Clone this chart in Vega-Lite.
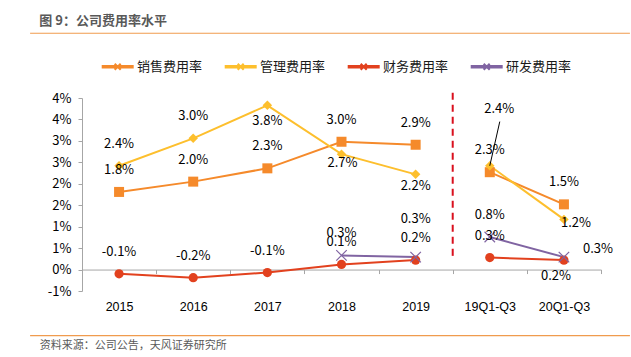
{
  "$schema": "https://vega.github.io/schema/vega-lite/v6.json",
  "width": 519,
  "height": 193,
  "autosize": {"type": "none"},
  "padding": {"left": 82, "top": 98, "right": 30, "bottom": 66},
  "background": "white",
  "config": {"view": {"stroke": null}, "font": "Noto Sans CJK SC", "axisY": {"labelOverlap": false}, "axisQuantitative": {"labelOverlap": false}},
  "title": {
    "text": "图 9：公司费用率水平",
    "anchor": "start",
    "frame": "group",
    "dx": -42.7,
    "offset": -5.5,
    "baseline": "alphabetic",
    "fontSize": 13,
    "fontWeight": "bold",
    "color": "#595959",
    "font": "Noto Sans CJK SC"
  },
  "data": {"name": "fees"},
  "datasets": {
    "fees": [
      {"period": "2015", "grp": "年度", "series": "销售费用率", "value": 1.81, "label": "1.8%"},
      {"period": "2016", "grp": "年度", "series": "销售费用率", "value": 2.05, "label": "2.0%"},
      {"period": "2017", "grp": "年度", "series": "销售费用率", "value": 2.36, "label": "2.3%"},
      {"period": "2018", "grp": "年度", "series": "销售费用率", "value": 2.98, "label": "3.0%"},
      {"period": "2019", "grp": "年度", "series": "销售费用率", "value": 2.91, "label": "2.9%"},
      {"period": "19Q1-Q3", "grp": "季度", "series": "销售费用率", "value": 2.27, "label": "2.3%"},
      {"period": "20Q1-Q3", "grp": "季度", "series": "销售费用率", "value": 1.52, "label": "1.5%"},
      {"period": "2015", "grp": "年度", "series": "管理费用率", "value": 2.42, "label": "2.4%"},
      {"period": "2016", "grp": "年度", "series": "管理费用率", "value": 3.06, "label": "3.0%"},
      {"period": "2017", "grp": "年度", "series": "管理费用率", "value": 3.83, "label": "3.8%"},
      {"period": "2018", "grp": "年度", "series": "管理费用率", "value": 2.69, "label": "2.7%"},
      {"period": "2019", "grp": "年度", "series": "管理费用率", "value": 2.22, "label": "2.2%"},
      {"period": "19Q1-Q3", "grp": "季度", "series": "管理费用率", "value": 2.42, "label": "2.4%"},
      {"period": "20Q1-Q3", "grp": "季度", "series": "管理费用率", "value": 1.17, "label": "1.2%"},
      {"period": "2015", "grp": "年度", "series": "财务费用率", "value": -0.10, "label": "-0.1%"},
      {"period": "2016", "grp": "年度", "series": "财务费用率", "value": -0.19, "label": "-0.2%"},
      {"period": "2017", "grp": "年度", "series": "财务费用率", "value": -0.07, "label": "-0.1%"},
      {"period": "2018", "grp": "年度", "series": "财务费用率", "value": 0.12, "label": "0.1%"},
      {"period": "2019", "grp": "年度", "series": "财务费用率", "value": 0.22, "label": "0.2%"},
      {"period": "19Q1-Q3", "grp": "季度", "series": "财务费用率", "value": 0.28, "label": "0.3%"},
      {"period": "20Q1-Q3", "grp": "季度", "series": "财务费用率", "value": 0.22, "label": "0.2%"},
      {"period": "2018", "grp": "年度", "series": "研发费用率", "value": 0.33, "label": "0.3%"},
      {"period": "2019", "grp": "年度", "series": "研发费用率", "value": 0.29, "label": "0.3%"},
      {"period": "19Q1-Q3", "grp": "季度", "series": "研发费用率", "value": 0.76, "label": "0.8%"},
      {"period": "20Q1-Q3", "grp": "季度", "series": "研发费用率", "value": 0.29, "label": "0.3%"}
    ]
  },
  "layer": [
    {
      "mark": {"type": "line", "strokeWidth": 2},
      "encoding": {
        "x": {
          "field": "period",
          "type": "ordinal",
          "scale": {"type": "band", "domain": ["2015", "2016", "2017", "2018", "2019", "19Q1-Q3", "20Q1-Q3"], "paddingInner": 0, "paddingOuter": 0},
          "axis": {
            "offset": -21.44,
            "title": "资料来源：公司公告，天风证券研究所",
            "titleX": -42.7,
            "titleY": 76,
            "titleAlign": "left",
            "titleAnchor": "start",
            "titleBaseline": "middle",
            "titleFont": "Noto Sans CJK SC",
            "titleFontSize": 11,
            "titleFontWeight": "normal",
            "titleColor": "#595959",
            "labelAngle": 0,
            "labelFont": "Liberation Sans",
            "labelFontSize": 12.5,
            "labelColor": "#000000",
            "labelPadding": 26.7,
            "labelOverlap": false,
            "tickBand": "extent",
            "tickSize": 4,
            "tickColor": "#A6A6A6",
            "domainColor": "#A6A6A6",
            "grid": false
          }
        },
        "y": {
          "field": "value",
          "type": "quantitative",
          "scale": {"domain": [-0.5, 4], "nice": false, "zero": false},
          "axis": {
            "title": null,
            "tickCount": 10,
            "labelExpr": "(datum.value < 0 ? '-' + round(-datum.value) : '' + round(datum.value)) + '%'",
            "labelFont": "Noto Sans CJK SC",
            "labelFontSize": 13,
            "labelColor": "#000000",
            "labelPadding": 7,
            "labelOverlap": false,
            "labelBound": false,
            "tickSize": 4,
            "tickColor": "#A6A6A6",
            "domainColor": "#A6A6A6",
            "grid": false
          }
        },
        "color": {
          "field": "series",
          "type": "nominal",
          "scale": {"domain": ["销售费用率", "管理费用率", "财务费用率", "研发费用率"], "range": ["#F58A2B", "#FDBF2D", "#E2411E", "#8064A2"]},
          "legend": {
            "orient": "none",
            "legendX": 19.7,
            "legendY": -47.3,
            "direction": "horizontal",
            "title": null,
            "padding": 0,
            "symbolSize": 900,
            "symbolType": "stroke",
            "symbolStrokeWidth": 2,
            "labelFont": "Noto Sans CJK SC",
            "labelFontSize": 13,
            "labelColor": "#1a1a1a",
            "labelOffset": 3.4,
            "columnPadding": 19,
            "encode": {
              "symbols": {
                "update": {
                  "shape": {
                    "condition": [
                      {"test": "datum.value === '销售费用率'", "value": "M-1,0H1M-0.2,-0.2H0.2V0.2H-0.2Z"},
                      {"test": "datum.value === '管理费用率'", "value": "M-1,0H1M-0.24,0L0,-0.24L0.24,0L0,0.24Z"},
                      {"test": "datum.value === '财务费用率'", "value": "M-1,0H1M0.231,0.096L0.096,0.231L-0.096,0.231L-0.231,0.096L-0.231,-0.096L-0.096,-0.231L0.096,-0.231L0.231,-0.096Z"}
                    ],
                    "value": "M-1,-0.05H1V0.05H-1ZM-0.2,-0.2L0.2,0.2M-0.2,0.2L0.2,-0.2"
                  },
                  "fill": {
                    "condition": [
                      {"test": "datum.value === '销售费用率'", "value": "#F58A2B"},
                      {"test": "datum.value === '管理费用率'", "value": "#FDBF2D"},
                      {"test": "datum.value === '财务费用率'", "value": "#E2411E"}
                    ],
                    "value": "#8064A2"
                  },
                  "stroke": {
                    "condition": [
                      {"test": "datum.value === '销售费用率'", "value": "#F58A2B"},
                      {"test": "datum.value === '管理费用率'", "value": "#FDBF2D"},
                      {"test": "datum.value === '财务费用率'", "value": "#E2411E"}
                    ],
                    "value": "#8064A2"
                  },
                  "opacity": {"value": 1}
                }
              }
            }
          }
        },
        "detail": {"field": "grp", "type": "nominal"},
        "strokeWidth": {"condition": {"test": "datum.series === '研发费用率'", "value": 3.5}, "value": 2}
      }
    },
    {
      "data": {"values": [{}]},
      "mark": {"type": "rule", "color": "#F09B4E", "strokeWidth": 1.2, "clip": false},
      "encoding": {
        "x": {"datum": "2015", "type": "ordinal", "bandPosition": -0.7},
        "x2": {"datum": "20Q1-Q3", "bandPosition": 1.39},
        "y": {"datum": 5.51, "type": "quantitative"}
      }
    },
    {
      "data": {"values": [{}]},
      "mark": {"type": "rule", "color": "#F09B4E", "strokeWidth": 1.2, "clip": false},
      "encoding": {
        "x": {"datum": "2015", "type": "ordinal", "bandPosition": -0.7},
        "x2": {"datum": "20Q1-Q3", "bandPosition": 1.39},
        "y": {"datum": -1.54, "type": "quantitative"}
      }
    },
    {
      "data": {"values": [{}]},
      "mark": {"type": "rule", "color": "#D9101E", "strokeWidth": 2, "strokeDash": [7, 5], "clip": false},
      "encoding": {
        "x": {"datum": "19Q1-Q3", "type": "ordinal", "bandPosition": 0},
        "y": {"datum": 4.12, "type": "quantitative"},
        "y2": {"datum": 0.27}
      }
    },
    {
      "transform": [{"filter": "datum.series === '销售费用率'"}],
      "mark": {"type": "point", "shape": "square", "filled": true, "size": 100, "opacity": 1},
      "encoding": {
        "x": {"field": "period", "type": "ordinal"},
        "y": {"field": "value", "type": "quantitative"},
        "color": {"field": "series", "type": "nominal"}
      }
    },
    {
      "transform": [{"filter": "datum.series === '管理费用率'"}],
      "mark": {"type": "point", "shape": "diamond", "filled": true, "size": 90, "opacity": 1},
      "encoding": {
        "x": {"field": "period", "type": "ordinal"},
        "y": {"field": "value", "type": "quantitative"},
        "color": {"field": "series", "type": "nominal"}
      }
    },
    {
      "transform": [{"filter": "datum.series === '财务费用率'"}],
      "mark": {"type": "point", "shape": "circle", "filled": true, "size": 85, "opacity": 1},
      "encoding": {
        "x": {"field": "period", "type": "ordinal"},
        "y": {"field": "value", "type": "quantitative"},
        "color": {"field": "series", "type": "nominal"}
      }
    },
    {
      "transform": [{"filter": "datum.series === '研发费用率'"}],
      "mark": {"type": "point", "shape": "M-1,-1L1,1M-1,1L1,-1", "filled": false, "size": 110, "strokeWidth": 1.2, "opacity": 1},
      "encoding": {
        "x": {"field": "period", "type": "ordinal"},
        "y": {"field": "value", "type": "quantitative"},
        "color": {"field": "series", "type": "nominal"}
      }
    },
    {
      "transform": [{"filter": "datum.series === '管理费用率' && datum.period === '19Q1-Q3'"}],
      "mark": {"type": "rule", "color": "#000000", "strokeWidth": 1, "x2Offset": 10},
      "encoding": {
        "x": {"field": "period", "type": "ordinal"},
        "x2": {"field": "period"},
        "y": {"field": "value", "type": "quantitative"},
        "y2": {"datum": 3.45}
      }
    },
    {
      "transform": [{"filter": "indexof(['管理费用率|2017','管理费用率|2018','管理费用率|2019','管理费用率|19Q1-Q3','管理费用率|20Q1-Q3','财务费用率|20Q1-Q3','研发费用率|2019','研发费用率|20Q1-Q3'], datum.series + '|' + datum.period) < 0"}],
      "mark": {"type": "text", "dy": -22, "fontSize": 13, "color": "#000000", "font": "Noto Sans CJK SC"},
      "encoding": {
        "x": {"field": "period", "type": "ordinal"},
        "y": {"field": "value", "type": "quantitative"},
        "text": {"field": "label"}
      }
    },
    {
      "transform": [{"filter": "datum.series === '管理费用率' && datum.period === '2017'"}],
      "mark": {"type": "text", "dy": 16, "fontSize": 13, "color": "#000000", "font": "Noto Sans CJK SC"},
      "encoding": {
        "x": {"field": "period", "type": "ordinal"},
        "y": {"field": "value", "type": "quantitative"},
        "text": {"field": "label"}
      }
    },
    {
      "transform": [{"filter": "datum.series === '管理费用率' && datum.period === '2018'"}],
      "mark": {"type": "text", "dy": 9, "dx": 1, "fontSize": 13, "color": "#000000", "font": "Noto Sans CJK SC"},
      "encoding": {
        "x": {"field": "period", "type": "ordinal"},
        "y": {"field": "value", "type": "quantitative"},
        "text": {"field": "label"}
      }
    },
    {
      "transform": [{"filter": "datum.series === '管理费用率' && datum.period === '2019'"}],
      "mark": {"type": "text", "dy": 12, "fontSize": 13, "color": "#000000", "font": "Noto Sans CJK SC"},
      "encoding": {
        "x": {"field": "period", "type": "ordinal"},
        "y": {"field": "value", "type": "quantitative"},
        "text": {"field": "label"}
      }
    },
    {
      "transform": [{"filter": "datum.series === '管理费用率' && datum.period === '19Q1-Q3'"}],
      "mark": {"type": "text", "dy": -57, "dx": 9.5, "fontSize": 13, "color": "#000000", "font": "Noto Sans CJK SC"},
      "encoding": {
        "x": {"field": "period", "type": "ordinal"},
        "y": {"field": "value", "type": "quantitative"},
        "text": {"field": "label"}
      }
    },
    {
      "transform": [{"filter": "datum.series === '管理费用率' && datum.period === '20Q1-Q3'"}],
      "mark": {"type": "text", "dy": 4, "dx": 12, "fontSize": 13, "color": "#000000", "font": "Noto Sans CJK SC"},
      "encoding": {
        "x": {"field": "period", "type": "ordinal"},
        "y": {"field": "value", "type": "quantitative"},
        "text": {"field": "label"}
      }
    },
    {
      "transform": [{"filter": "datum.series === '财务费用率' && datum.period === '20Q1-Q3'"}],
      "mark": {"type": "text", "dy": 16, "dx": -8, "fontSize": 13, "color": "#000000", "font": "Noto Sans CJK SC"},
      "encoding": {
        "x": {"field": "period", "type": "ordinal"},
        "y": {"field": "value", "type": "quantitative"},
        "text": {"field": "label"}
      }
    },
    {
      "transform": [{"filter": "datum.series === '研发费用率' && datum.period === '2019'"}],
      "mark": {"type": "text", "dy": -38, "fontSize": 13, "color": "#000000", "font": "Noto Sans CJK SC"},
      "encoding": {
        "x": {"field": "period", "type": "ordinal"},
        "y": {"field": "value", "type": "quantitative"},
        "text": {"field": "label"}
      }
    },
    {
      "transform": [{"filter": "datum.series === '研发费用率' && datum.period === '20Q1-Q3'"}],
      "mark": {"type": "text", "dy": -8, "dx": 34, "fontSize": 13, "color": "#000000", "font": "Noto Sans CJK SC"},
      "encoding": {
        "x": {"field": "period", "type": "ordinal"},
        "y": {"field": "value", "type": "quantitative"},
        "text": {"field": "label"}
      }
    }
  ]
}
